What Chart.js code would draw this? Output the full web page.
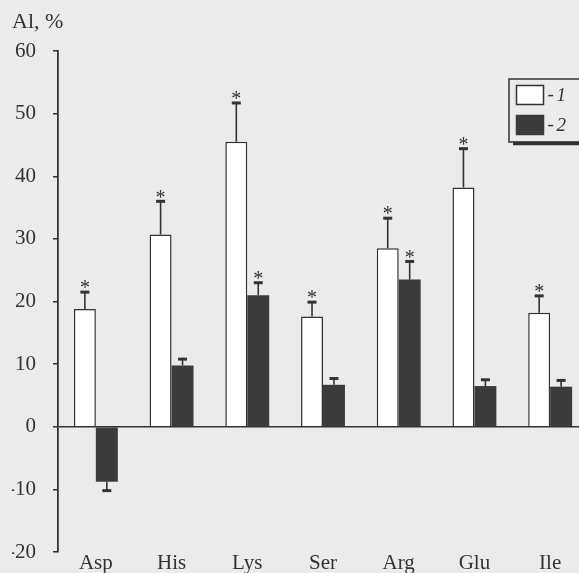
<!DOCTYPE html>
<html>
<head>
<meta charset="utf-8">
<script src="https://cdn.jsdelivr.net/npm/chart.js@4/dist/chart.umd.min.js"></script>
<style>
  html, body { margin: 0; padding: 0; background: #ebebeb; overflow: hidden; }
  canvas { display: block; }
</style>
</head>
<body>
<canvas id="chart" width="600" height="573"></canvas>
<script>
// amino acids
const categories = ['Asp', 'His', 'Lys', 'Ser', 'Arg', 'Glu', 'Ile'];
const seriesLabels = ['1', '2'];

// AI, % values and error (SE) for each group
const values1 = [18.8, 30.7, 45.5, 17.6, 28.5, 38.2, 18.2];
const errors1 = [2.7, 5.3, 6.2, 2.3, 4.8, 6.2, 2.7];
const values2 = [-8.8, 9.8, 21.0, 6.7, 23.5, 6.5, 6.4];
const errors2 = [1.4, 1.0, 2.0, 1.0, 2.9, 1.0, 1.0];

// significance marks (*)
const stars1 = [true, true, true, true, true, true, true];
const stars2 = [false, false, true, false, true, false, false];

const yTicks = [-20, -10, 0, 10, 20, 30, 40, 50, 60];

const ink = '#333333';
const dark = '#3b3b3b';
const serif = '"Liberation Serif", "Times New Roman", serif';

const errorBars = {
    id: 'errorBars',
    afterDatasetsDraw(chart) {
        const ctx = chart.ctx;
        const y = chart.scales.y;
        const errs = [errors1, errors2];
        const stars = [stars1, stars2];
        ctx.save();
        ctx.strokeStyle = ink;
        ctx.fillStyle = ink;
        chart.data.datasets.forEach((ds, i) => {
            const meta = chart.getDatasetMeta(i);
            meta.data.forEach((bar, j) => {
                const v = ds.data[j];
                const end = v >= 0 ? v + errs[i][j] : v - errs[i][j];
                const y0 = y.getPixelForValue(v);
                const y1 = y.getPixelForValue(end);
                ctx.lineWidth = 1.6;
                ctx.beginPath();
                ctx.moveTo(bar.x, y0);
                ctx.lineTo(bar.x, y1);
                ctx.stroke();
                ctx.lineWidth = 3;
                ctx.beginPath();
                ctx.moveTo(bar.x - 4.5, y1);
                ctx.lineTo(bar.x + 4.5, y1);
                ctx.stroke();
                if (stars[i][j]) {
                    ctx.font = '20px ' + serif;
                    ctx.textAlign = 'center';
                    ctx.textBaseline = 'middle';
                    ctx.fillText('*', bar.x, y1 - 3);
                }
            });
        });
        ctx.restore();
    }
};

// framed legend in the upper right corner
const boxLegend = {
    id: 'boxLegend',
    afterDraw(chart) {
        const ctx = chart.ctx;
        const area = chart.chartArea;
        const left = area.right - 79;
        const top = area.top + 28;
        const w = 100, h = 63;
        ctx.save();
        ctx.strokeStyle = ink;
        ctx.lineWidth = 1.5;
        ctx.strokeRect(left, top, w, h);
        ctx.lineWidth = 3.5;
        ctx.beginPath();
        ctx.moveTo(left + 4, top + h + 1.5);
        ctx.lineTo(left + w, top + h + 1.5);
        ctx.stroke();
        chart.data.datasets.forEach((ds, i) => {
            const bx = left + 7.5;
            const by = top + 6.5 + i * 30;
            ctx.fillStyle = ds.backgroundColor;
            ctx.fillRect(bx, by, 27, 19);
            ctx.lineWidth = 1.5;
            ctx.strokeStyle = ds.borderColor;
            ctx.strokeRect(bx, by, 27, 19);
            ctx.fillStyle = ink;
            ctx.font = '19px ' + serif;
            ctx.textAlign = 'left';
            ctx.textBaseline = 'middle';
            ctx.fillText('-', bx + 31, by + 10);
            ctx.font = 'italic 19px ' + serif;
            ctx.fillText(ds.label, bx + 40, by + 10);
        });
        ctx.restore();
    }
};

new Chart(document.getElementById('chart'), {
    type: 'bar',
    data: {
        labels: categories,
        datasets: [{
            label: seriesLabels[0],
            data: values1,
            backgroundColor: '#ffffff',
            borderColor: ink,
            borderWidth: 1.5,
            categoryPercentage: 0.58,
            barPercentage: 1.0
        }, {
            label: seriesLabels[1],
            data: values2,
            backgroundColor: dark,
            borderColor: dark,
            borderWidth: 0,
            categoryPercentage: 0.58,
            barPercentage: 1.0
        }]
    },
    options: {
        responsive: false,
        animation: false,
        layout: { padding: { left: 12, right: 12, top: 0, bottom: 0 } },
        plugins: {
            legend: { display: false },
            tooltip: { enabled: false },
            title: {
                display: true,
                text: 'Al, %',
                align: 'start',
                color: ink,
                font: { family: serif, size: 22, weight: 'normal', lineHeight: 1 },
                padding: { top: 11, bottom: 18 }
            }
        },
        scales: {
            x: {
                grid: { display: false, drawTicks: false },
                border: { display: false },
                ticks: {
                    color: ink,
                    padding: 1,
                    font: { family: serif, size: 21, lineHeight: 1 }
                },
                afterFit(scale) { scale.height = 21; }
            },
            y: {
                min: -20,
                max: 60,
                afterBuildTicks(scale) { scale.ticks = yTicks.map(v => ({ value: v })); },
                grid: {
                    color: c => (c.tick && c.tick.value === 0 ? ink : 'transparent'),
                    lineWidth: 1.5,
                    tickColor: ink,
                    tickLength: 5
                },
                border: { display: true, color: ink, width: 1.8 },
                ticks: {
                    color: ink,
                    padding: 17,
                    font: { family: serif, size: 21 }
                },
                afterFit(scale) {
                    scale.width = 46;
                    scale.paddingTop = 0;
                    scale.paddingBottom = 0;
                }
            }
        }
    },
    plugins: [errorBars, boxLegend]
});
</script>
</body>
</html>
